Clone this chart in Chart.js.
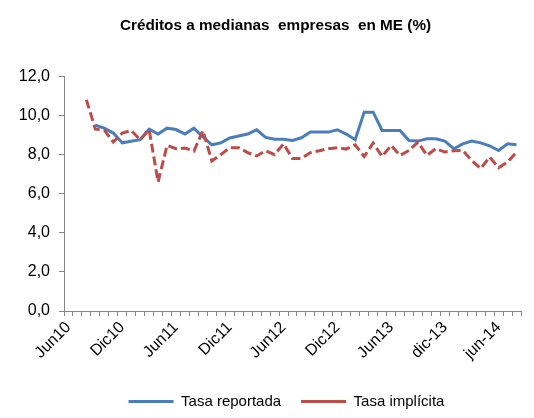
<!DOCTYPE html>
<html>
<head>
<meta charset="utf-8">
<script src="https://cdn.jsdelivr.net/npm/chart.js@4"></script>
<style>
  html, body { margin: 0; padding: 0; background: #fff; }
  #wrap { width: 534px; height: 418px; }
</style>
</head>
<body>
<div id="wrap"><canvas id="creditChart" width="534" height="418"></canvas></div>
<script>
// monthly categories, Jun 2010 - Aug 2014 (only every 6th one is labelled)
const months = [
  'Jun10', 'Jul10', 'Ago10', 'Sep10', 'Oct10', 'Nov10', 'Dic10', 'Ene11', 'Feb11', 'Mar11', 'Abr11', 'May11',
  'Jun11', 'Jul11', 'Ago11', 'Sep11', 'Oct11', 'Nov11', 'Dic11', 'Ene12', 'Feb12', 'Mar12', 'Abr12', 'May12',
  'Jun12', 'Jul12', 'Ago12', 'Sep12', 'Oct12', 'Nov12', 'Dic12', 'Ene13', 'Feb13', 'Mar13', 'Abr13', 'May13',
  'Jun13', 'jul-13', 'ago-13', 'sep-13', 'oct-13', 'nov-13', 'dic-13', 'ene-14', 'feb-14', 'mar-14', 'abr-14', 'may-14',
  'jun-14', 'jul-14', 'ago-14'
];

const tasaReportada = [
  null, null, null, 9.5, 9.35, 9.1, 8.6, 8.68, 8.76, 9.3, 9.05, 9.35,
  9.28, 9.05, 9.35, 8.9, 8.5, 8.6, 8.85, 8.95, 9.05, 9.27, 8.88, 8.78,
  8.78, 8.72, 8.86, 9.15, 9.15, 9.15, 9.27, 9.05, 8.76, 10.17, 10.17, 9.23,
  9.23, 9.23, 8.72, 8.69, 8.81, 8.81, 8.69, 8.3, 8.55, 8.69, 8.6, 8.45,
  8.21, 8.55, 8.5
];

const tasaImplicita = [
  null, null, 10.8, 9.3, 9.25, 8.64, 9.1, 9.23, 8.76, 9.27, 6.6, 8.47,
  8.3, 8.33, 8.18, 9.23, 7.67, 8.0, 8.35, 8.35, 8.1, 7.93, 8.2, 8.0,
  8.55, 7.8, 7.8, 8.1, 8.2, 8.3, 8.35, 8.28, 8.5, 7.9, 8.59, 7.9,
  8.47, 7.96, 8.21, 8.64, 7.96, 8.3, 8.13, 8.2, 8.21, 7.7, 7.28, 7.87,
  7.33, 7.62, 8.13
];

const yTicks = [0, 2, 4, 6, 8, 10, 12];

const fontFamily = '"Liberation Sans", Arial, sans-serif';
const axisColor = '#868686';

// squeeze the legend box and nudge title/legend to the right like the original
const layoutTweaks = {
  id: 'layoutTweaks',
  beforeLayout(chart) {
    const lg = chart.legend;
    if (lg && !lg._fitWrapped) {
      const fit = lg.fit;
      lg.fit = function () {
        fit.call(this);
        this.height = 44;
      };
      lg._fitWrapped = true;
    }
  },
  afterLayout(chart) {
    if (chart.titleBlock) chart.titleBlock.left = 30;
    if (chart.legend) chart.legend.left = 52;
  }
};

const ctx = document.getElementById('creditChart').getContext('2d');
const creditChart = new Chart(ctx, {
  type: 'line',
  data: {
    labels: months,
    datasets: [{
      label: 'Tasa reportada',
      data: tasaReportada,
      borderColor: '#4A7EBB',
      backgroundColor: '#4A7EBB',
      borderWidth: 3,
      pointRadius: 0,
      tension: 0,
      fill: false,
      order: 1
    }, {
      label: 'Tasa implícita',
      data: tasaImplicita,
      borderColor: '#BE4B48',
      backgroundColor: '#BE4B48',
      borderWidth: 3,
      borderDash: [9, 4],
      pointRadius: 0,
      tension: 0,
      fill: false,
      order: 0
    }]
  },
  options: {
    responsive: false,
    animation: false,
    layout: { padding: { left: 0, right: 13, top: 0, bottom: 0 } },
    scales: {
      x: {
        offset: true,
        grid: { offset: true, drawOnChartArea: false, tickLength: 5, color: axisColor },
        border: { color: axisColor, width: 1 },
        ticks: {
          autoSkip: false,
          minRotation: 45,
          maxRotation: 45,
          padding: 2,
          color: '#000',
          font: { family: fontFamily, size: 16 },
          callback: (v, i) => (i % 6 === 0 ? months[i] : '')
        },
        afterFit: (s) => { s.height = 63; }
      },
      y: {
        min: 0,
        max: 12,
        afterBuildTicks: (s) => { s.ticks = yTicks.map(v => ({ value: v })); },
        grid: { drawOnChartArea: false, tickLength: 5, color: axisColor },
        border: { color: axisColor, width: 1 },
        ticks: {
          padding: 9,
          color: '#000',
          font: { family: fontFamily, size: 16 },
          callback: (v) => v.toFixed(1).replace('.', ',')
        },
        afterFit: (s) => { s.width = 64; }
      }
    },
    plugins: {
      title: {
        display: true,
        text: 'Créditos a medianas  empresas  en ME (%)',
        color: '#000',
        font: { family: fontFamily, size: 15.3, weight: 'bold' },
        padding: { top: 17, bottom: 41 }
      },
      legend: {
        position: 'bottom',
        labels: {
          usePointStyle: true,
          pointStyle: 'line',
          pointStyleWidth: 45,
          boxWidth: 45,
          padding: 20,
          color: '#000',
          font: { family: fontFamily, size: 15 },
          sort: (a, b) => a.datasetIndex - b.datasetIndex
        }
      },
      tooltip: { enabled: false }
    }
  },
  plugins: [layoutTweaks]
});
</script>
</body>
</html>
